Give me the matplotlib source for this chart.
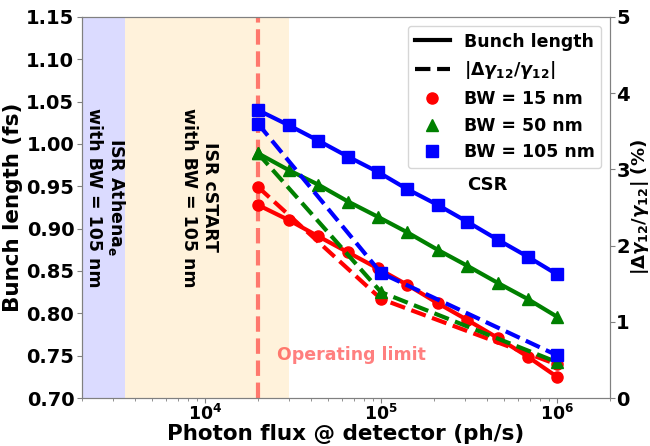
import matplotlib
matplotlib.use('Agg')
import matplotlib.pyplot as plt
from matplotlib.lines import Line2D

plt.rcParams['font.family'] = 'DejaVu Sans'
plt.rcParams['font.weight'] = 'bold'
plt.rcParams['axes.labelweight'] = 'bold'
plt.rcParams['mathtext.default'] = 'bf'

# photon flux points (ph/s)
flux = [2.0e4, 3.0e4, 4.4e4, 6.5e4, 9.6e4, 1.4e5, 2.1e5, 3.1e5, 4.6e5, 6.8e5, 1.0e6]
flux_dg = [2.0e4, 1.0e5, 1.0e6]

# bunch length (fs)
bl_15 = [0.928, 0.910, 0.891, 0.872, 0.853, 0.834, 0.812, 0.792, 0.771, 0.749, 0.725]
bl_50 = [0.989, 0.969, 0.952, 0.932, 0.914, 0.896, 0.875, 0.856, 0.836, 0.817, 0.796]
bl_105 = [1.040, 1.022, 1.004, 0.985, 0.967, 0.947, 0.928, 0.908, 0.887, 0.867, 0.846]

# |dgamma/gamma| (%)
dg_15 = [2.77, 1.30, 0.44]
dg_50 = [3.21, 1.39, 0.47]
dg_105 = [3.60, 1.64, 0.56]

fig = plt.figure(figsize=(6.5, 4.46), dpi=100)
ax = fig.add_axes([0.126, 0.1076, 0.8125, 0.8544])
ax2 = ax.twinx()

ax.set_xscale('log')
ax.set_xlim(2e3, 2e6)
ax.set_ylim(0.70, 1.15)
ax2.set_ylim(0, 5)

# ISR regions
ax.axvspan(2e3, 3.5e3, color='blue', alpha=0.14, lw=0)
ax.axvspan(3.5e3, 3.0e4, color='orange', alpha=0.14, lw=0)
ax.axvline(2e4, color='red', alpha=0.5, ls='--', lw=3)

ax.text(2.75e3, 0.937, 'ISR Athena$_\\mathbf{e}$\nwith BW = 105 nm', rotation=-90,
        ha='center', va='center', multialignment='center', fontsize=12.5, fontweight='bold')
ax.text(9.3e3, 0.937, 'ISR cSTART\nwith BW = 105 nm', rotation=-90,
        ha='center', va='center', multialignment='center', fontsize=12.5, fontweight='bold')
ax.text(2.56e4, 0.751, 'Operating limit', color='red', alpha=0.5, ha='left', va='center',
        fontsize=12.5, fontweight='bold')
ax.text(4.0e5, 0.952, 'CSR', ha='center', va='center', fontsize=13, fontweight='bold')

# bunch length (solid)
ax.plot(flux, bl_15, '-o', color='red', lw=3, ms=8)
ax.plot(flux, bl_50, '-^', color='green', lw=3, ms=8)
ax.plot(flux, bl_105, '-s', color='blue', lw=3, ms=8)

# energy spread (dashed)
ax2.plot(flux_dg, dg_15, '--o', color='red', lw=3, ms=8)
ax2.plot(flux_dg, dg_50, '--^', color='green', lw=3, ms=8)
ax2.plot(flux_dg, dg_105, '--s', color='blue', lw=3, ms=8)

ax.set_yticks([0.70, 0.75, 0.80, 0.85, 0.90, 0.95, 1.00, 1.05, 1.10, 1.15])
ax2.set_yticks([0, 1, 2, 3, 4, 5])

dg_label = r'$|\mathbf{\Delta}\boldsymbol{\gamma}_\mathbf{12}/\boldsymbol{\gamma}_\mathbf{12}|$'
ax.set_xlabel('Photon flux @ detector (ph/s)', fontsize=15.5, fontweight='bold', labelpad=0)
ax.set_ylabel('Bunch length (fs)', fontsize=15.5, fontweight='bold', labelpad=2)
ax2.set_ylabel(dg_label + ' (%)', fontsize=13, fontweight='bold')
ax2.yaxis.set_label_coords(1.035, 0.5)

for a in (ax, ax2):
    a.tick_params(labelsize=14, colors='gray', labelcolor='black', which='both', pad=2)
    for s in a.spines.values():
        s.set_color('gray')
ax.tick_params(axis='x', labelsize=12.5, pad=1)
ax2.tick_params(axis='y', pad=1)
for a in (ax, ax2):
    for lab in a.get_xticklabels() + a.get_yticklabels():
        lab.set_fontweight('bold')

handles = [
    Line2D([], [], color='black', ls='-', lw=3),
    Line2D([], [], color='black', ls='--', lw=3),
    Line2D([], [], color='red', marker='o', ls='none', ms=8),
    Line2D([], [], color='green', marker='^', ls='none', ms=8),
    Line2D([], [], color='blue', marker='s', ls='none', ms=8),
]
labels = ['Bunch length', dg_label, 'BW = 15 nm', 'BW = 50 nm', 'BW = 105 nm']
ax2.legend(handles, labels, loc='upper right', prop={'size': 12.5, 'weight': 'bold'})

fig.savefig('out.png', dpi=100)
